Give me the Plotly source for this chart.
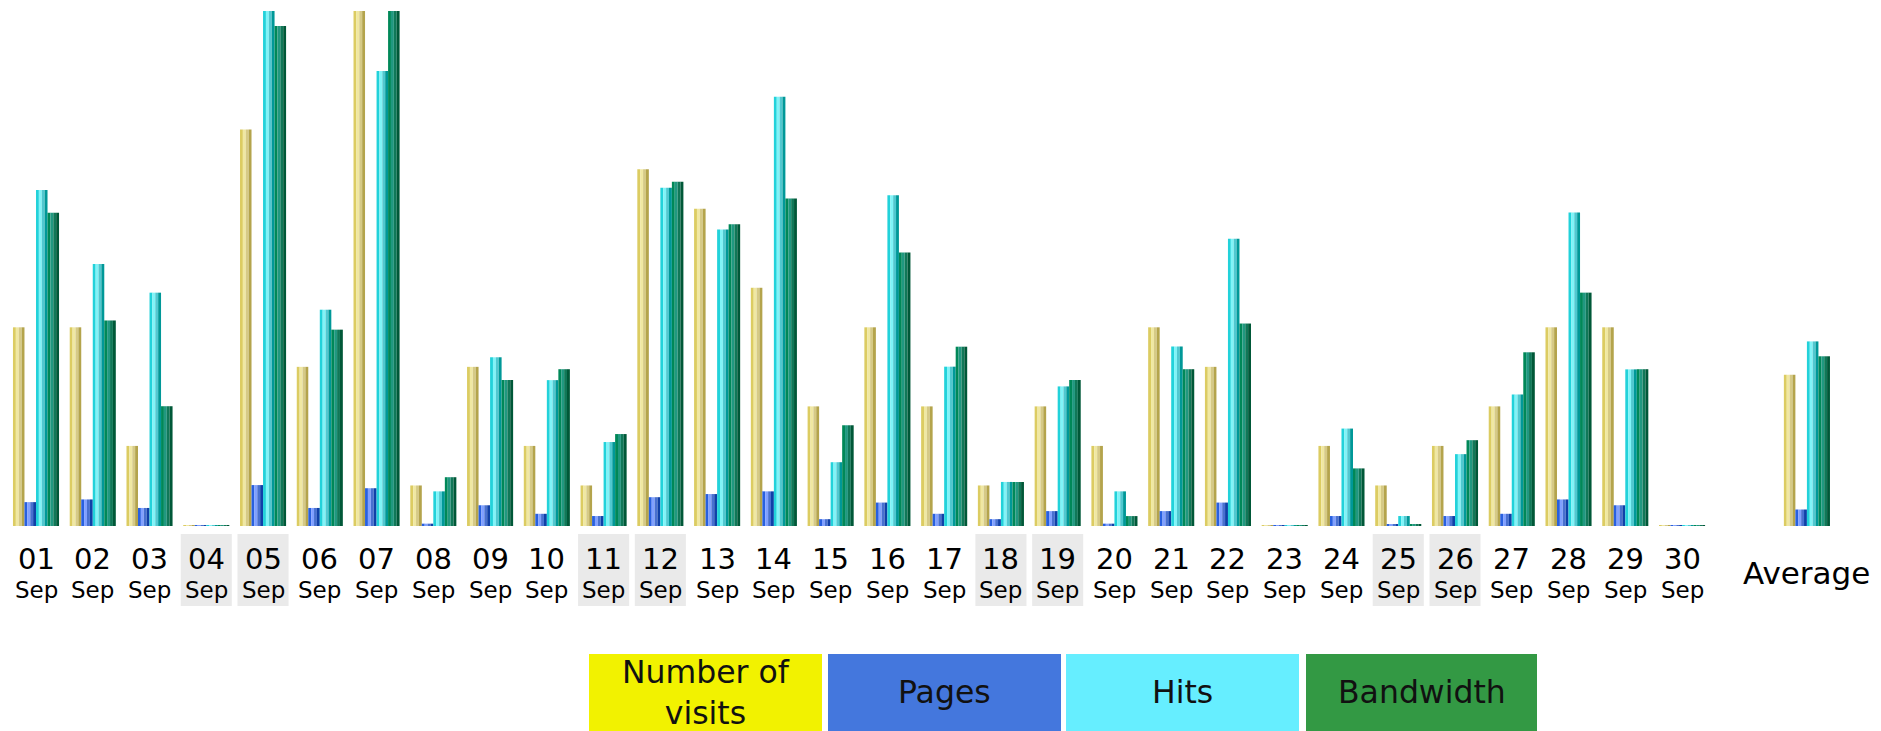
import plotly.graph_objects as go

# ---------------- data ----------------
days = [f"{d:02d}" for d in range(1, 31)]
month_label = "Sep"
average_label = "Average"
weekend_days = ["04", "05", "11", "12", "18", "19", "25", "26"]

visits = [5, 5, 2, 0, 10, 4, 13, 1, 4, 2, 1, 9, 8, 6, 3,
          5, 3, 1, 3, 2, 5, 4, 0, 2, 1, 2, 3, 5, 5, 0]
pages = [51, 57, 38, 0, 89, 38, 82, 3, 44, 25, 20, 62, 69, 75, 13,
         50, 25, 13, 31, 3, 31, 50, 0, 20, 2, 20, 25, 57, 44, 0]
hits = [747, 582, 518, 0, 1146, 480, 1012, 75, 374, 323, 185, 752, 659, 955, 140,
        735, 353, 96, 309, 75, 398, 638, 0, 215, 20, 158, 291, 697, 347, 0]
bandwidth_mb = [23.45, 15.36, 8.92, 0, 37.48, 14.67, 38.60, 3.59, 10.89, 11.70, 6.83, 25.78, 22.58, 24.51, 7.49,
                20.46, 13.39, 3.23, 10.89, 0.67, 11.70, 15.13, 0, 4.25, 0.05, 6.37, 12.97, 17.45, 11.70, 0]

legend_labels = ["Number of<br>visits", "Pages", "Hits", "Bandwidth"]
legend_colors = ["#F2F200", "#4477DD", "#66EEFF", "#339944"]

# ---------------- layout helpers ----------------
W, H = 1881, 731
TOP, BASE = 11, 526          # plot area pixel rows
PH = BASE - TOP


def py(y):
    return (BASE - y) / PH


def px(x):
    return x / W


def mean(v):
    return sum(v) / len(v)


xpos = list(range(1, 31))
avg_x = 32.2
X = xpos + [avg_x]

v_all = visits + [mean(visits)]
p_all = pages + [mean(pages)]
h_all = hits + [mean(hits)]
k_all = bandwidth_mb + [mean(bandwidth_mb)]

vmax = max(visits)
hmax = max(hits)
kmax = max(bandwidth_mb)

BW = 0.203  # bar width in x-units
stripes = {
    "visits": ["#DCCC62", "#F0E8A2", "#D6CA86", "#B4A44C"],
    "pages": ["#2860E0", "#80A0FF", "#4870D0", "#1040A8"],
    "hits": ["#22D2DA", "#80F4F8", "#50C8D0", "#009898"],
    "bw": ["#008858", "#209880", "#107858", "#005838"],
}

fig = go.Figure()


def add_series(vals, colors, slot, axis, vmaxax):
    sw = BW / len(colors)
    for k, c in enumerate(colors):
        fig.add_trace(go.Bar(
            x=X, y=[v + vmaxax / PH for v in vals], base=-vmaxax / PH,
            width=sw, offset=-2 * BW + slot * BW + k * sw,
            marker=dict(color=c, line=dict(width=0)),
            yaxis=axis, showlegend=False, hoverinfo="skip",
        ))


add_series(v_all, stripes["visits"], 0, "y", vmax)
add_series(p_all, stripes["pages"], 1, "y2", hmax)
add_series(h_all, stripes["hits"], 2, "y2", hmax)
add_series(k_all, stripes["bw"], 3, "y3", kmax)

shapes = []
annotations = []

# weekend highlight boxes
for d in weekend_days:
    xi = days.index(d) + 1
    shapes.append(dict(type="rect", xref="x", yref="paper",
                       x0=xi - 0.45, x1=xi + 0.45, y0=py(606), y1=py(534),
                       fillcolor="#EAEAEA", line=dict(width=0), layer="below"))

# day labels
for i, d in enumerate(days):
    xi = i + 1
    annotations.append(dict(x=xi, y=py(559), xref="x", yref="paper", text=d,
                            showarrow=False, xanchor="center", yanchor="middle",
                            font=dict(family="DejaVu Sans", size=29, color="#000000")))
    annotations.append(dict(x=xi, y=py(590), xref="x", yref="paper", text=month_label,
                            showarrow=False, xanchor="center", yanchor="middle",
                            font=dict(family="DejaVu Sans", size=23, color="#000000")))
annotations.append(dict(x=avg_x, y=py(573), xref="x", yref="paper", text=average_label,
                        showarrow=False, xanchor="center", yanchor="middle",
                        font=dict(family="DejaVu Sans", size=31, color="#000000")))

# legend boxes
box_x = [(589, 822), (828, 1061), (1066, 1299), (1306, 1537)]
for (x0, x1), lab, col in zip(box_x, legend_labels, legend_colors):
    shapes.append(dict(type="rect", xref="paper", yref="paper",
                       x0=px(x0), x1=px(x1), y0=py(740), y1=py(654),
                       fillcolor=col, line=dict(width=0), layer="below"))
    annotations.append(dict(x=px((x0 + x1) / 2), y=py(692), xref="paper", yref="paper",
                            text=lab, showarrow=False, xanchor="center", yanchor="middle",
                            font=dict(family="DejaVu Sans", size=31.5, color="#111111")))

fig.update_layout(
    width=W, height=H,
    margin=dict(l=0, r=0, t=TOP, b=H - BASE, pad=0),
    paper_bgcolor="white", plot_bgcolor="white",
    barmode="overlay",
    showlegend=False,
    xaxis=dict(range=[1 - 36 / 56.76, 1 + (W - 36) / 56.76], visible=False, fixedrange=True),
    yaxis=dict(range=[-vmax / PH, vmax], visible=False, fixedrange=True),
    yaxis2=dict(range=[-hmax / PH, hmax], visible=False, overlaying="y", fixedrange=True),
    yaxis3=dict(range=[-kmax / PH, kmax], visible=False, overlaying="y", fixedrange=True),
    shapes=shapes,
    annotations=annotations,
)

fig.write_html("out.html", config={"displayModeBar": False},
               post_script="document.body.style.margin='0';document.body.style.overflow='hidden';")
